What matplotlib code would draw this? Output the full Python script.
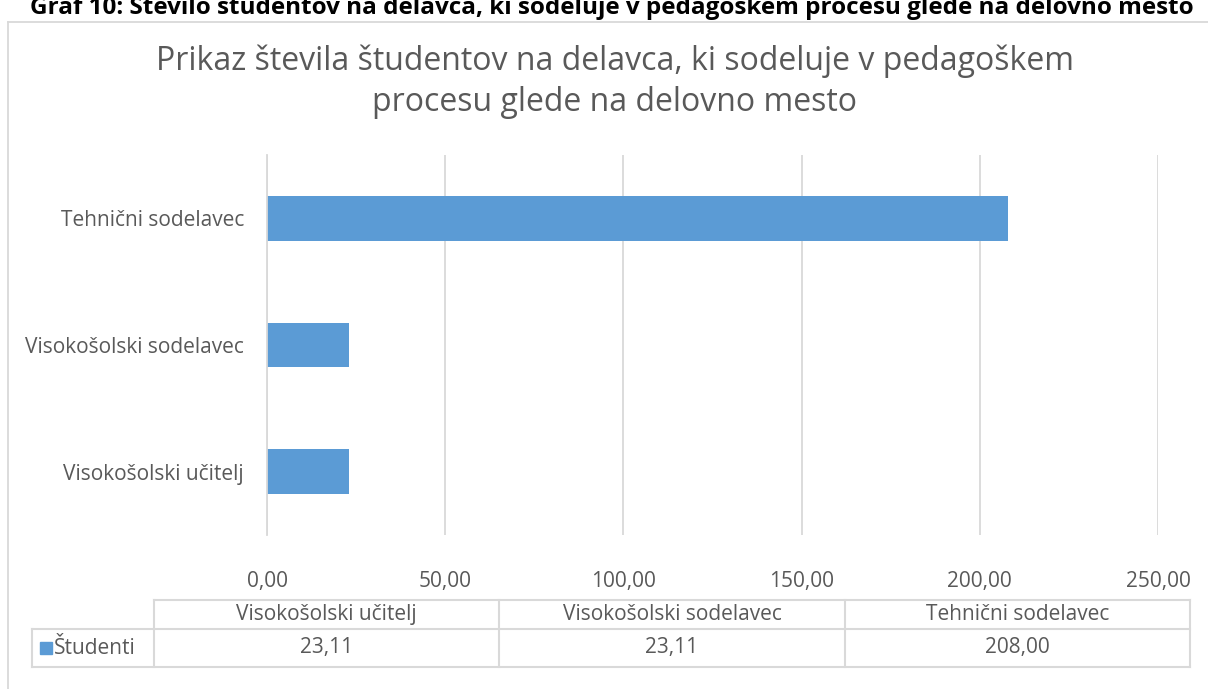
import matplotlib
matplotlib.use("Agg")
import matplotlib.pyplot as plt
from matplotlib.lines import Line2D
from matplotlib.patches import Rectangle

plt.rcParams["font.family"] = ["Open Sans", "DejaVu Sans"]

# ── Data ──
categories = ["Visokošolski učitelj", "Visokošolski sodelavec", "Tehnični sodelavec"]
studenti = [23.11, 23.11, 208.00]
series_name = "Študenti"
x_ticks = [0, 50, 100, 150, 200, 250]

caption = ("Graf 10: Število študentov na delavca, ki sodeluje v pedagoškem "
           "procesu glede na delovno mesto")
title = ("Prikaz števila študentov na delavca, ki sodeluje v pedagoškem\n"
         "procesu glede na delovno mesto")

BAR = "#5B9BD5"
GRID = "#D9D9D9"
TXT = "#595959"

W, H = 1208, 689
fig = plt.figure(figsize=(W / 100, H / 100), dpi=100)


def fx(px):
    return px / W


def fy(py):
    return 1 - py / H


def fmt(v):
    return f"{v:.2f}".replace(".", ",")


# outer chart border (cropped on right / bottom)
fig.add_artist(Line2D([fx(8), fx(8)], [fy(22), 0], color=GRID, lw=1.3))
fig.add_artist(Line2D([fx(8), 1], [fy(22), fy(22)], color=GRID, lw=1.3))

# document caption above the chart (cropped at the top, as in the source)
fig.text(fx(612), fy(14), caption, ha="center", va="baseline",
         fontsize=17.5, fontweight="bold", color="black")

fig.text(fx(615), fy(82), title, ha="center", va="center",
         fontsize=23, color=TXT, linespacing=1.32)

# ── Bars ──
ax = fig.add_axes([fx(267), fy(535), fx(1158) - fx(267), fy(155) - fy(535)])
ypos = list(range(len(categories)))
ax.barh(ypos, studenti, height=0.355, color=BAR, zorder=3)
ax.set_xlim(0, 250)
ax.set_ylim(-0.5, 2.5)
ax.set_xticks(x_ticks)
ax.set_xticklabels([fmt(t) for t in x_ticks])
ax.set_yticks(ypos)
ax.set_yticklabels(categories)
ax.tick_params(axis="both", length=0, labelsize=15, labelcolor=TXT)
ax.tick_params(axis="x", pad=26)
ax.tick_params(axis="y", pad=16.5)
ax.grid(axis="x", color=GRID, lw=1.3, zorder=0)
for s in ["top", "right", "bottom"]:
    ax.spines[s].set_visible(False)
ax.spines["left"].set_color(GRID)
ax.spines["left"].set_linewidth(1.3)
ax.spines["left"].set_zorder(4)

# ── Data table ──
t_left, t_right = 154, 1190
r_top, r_mid, r_bot = 600, 629, 667
leg_left = 32
col_w = (t_right - t_left) / len(categories)
lc = dict(color=GRID, lw=1.5)
fig.add_artist(Line2D([fx(t_left), fx(t_right)], [fy(r_top), fy(r_top)], **lc))
fig.add_artist(Line2D([fx(leg_left), fx(t_right)], [fy(r_mid), fy(r_mid)], **lc))
fig.add_artist(Line2D([fx(leg_left), fx(t_right)], [fy(r_bot), fy(r_bot)], **lc))
fig.add_artist(Line2D([fx(leg_left), fx(leg_left)], [fy(r_mid), fy(r_bot)], **lc))
for i in range(len(categories) + 1):
    xc = t_left + i * col_w
    fig.add_artist(Line2D([fx(xc), fx(xc)], [fy(r_top), fy(r_bot)], **lc))
for i, (cat, val) in enumerate(zip(categories, studenti)):
    xm = t_left + (i + 0.5) * col_w
    fig.text(fx(xm), fy((r_top + r_mid) / 2), cat, ha="center", va="center",
             fontsize=15, color=TXT)
    fig.text(fx(xm), fy((r_mid + r_bot) / 2), fmt(val), ha="center", va="center",
             fontsize=15, color=TXT)
fig.add_artist(Rectangle((fx(40), fy(654)), fx(12), fy(642) - fy(654),
                         color=BAR, transform=fig.transFigure))
fig.text(fx(54), fy((r_mid + r_bot) / 2), series_name, ha="left", va="center",
         fontsize=15, color=TXT)

fig.savefig("out.png", dpi=100)
